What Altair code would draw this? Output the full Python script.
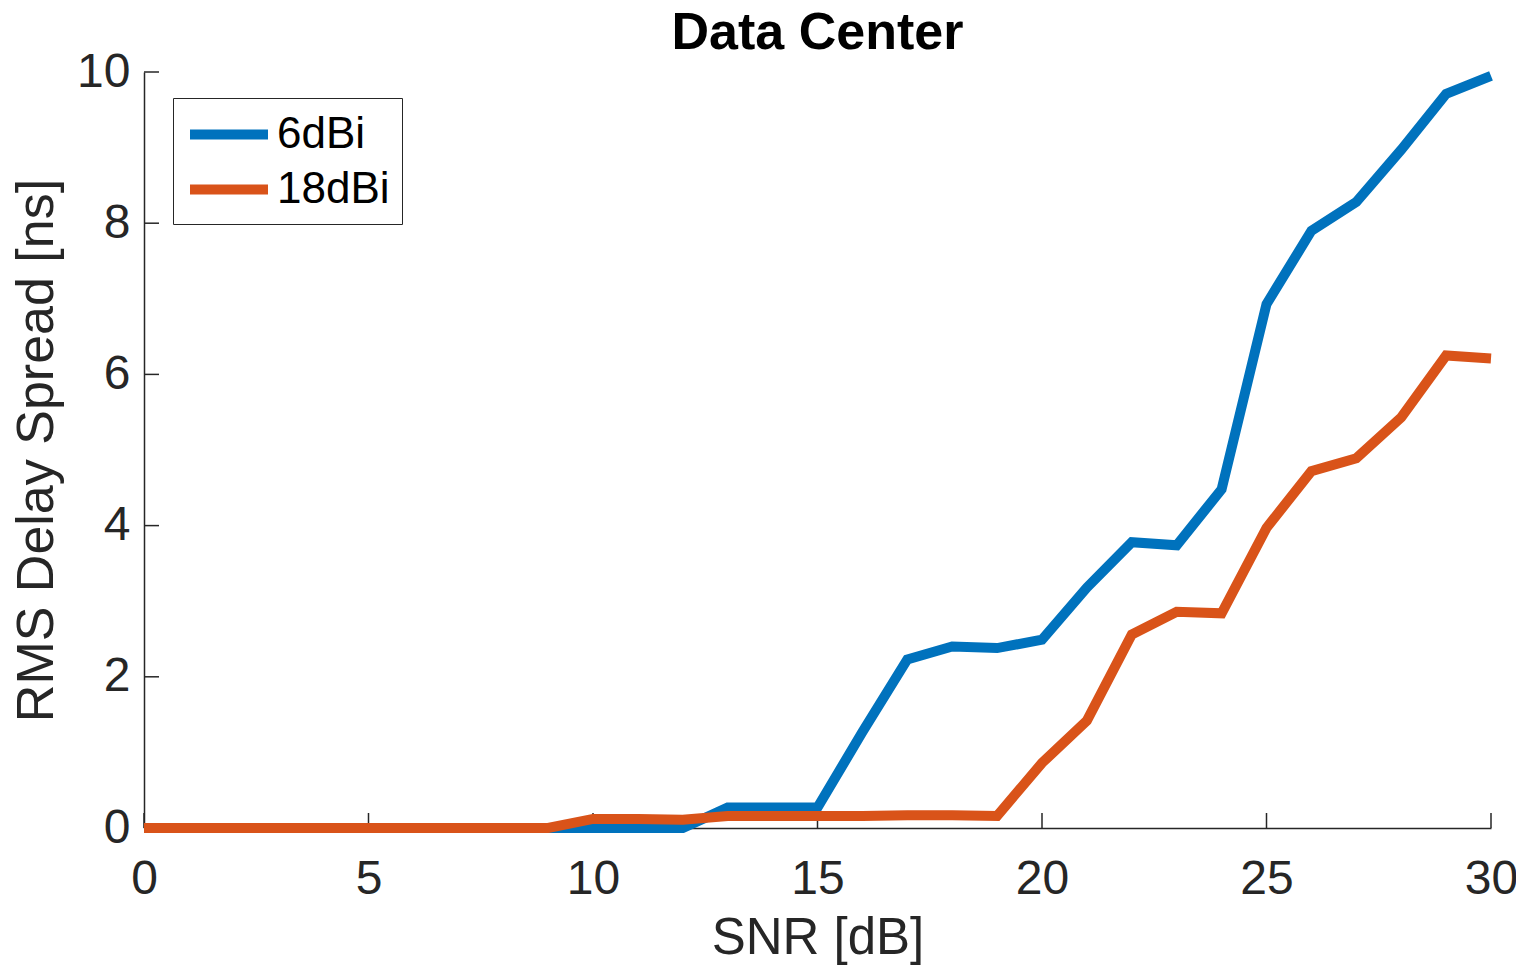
import altair as alt
import pandas as pd

snr = list(range(0, 31))
series_names = ["6dBi", "18dBi"]
blue_vals = [0, 0, 0, 0, 0, 0, 0, 0, 0, 0,
             0.0, 0.0, 0.0, 0.27, 0.27, 0.27, 1.27, 2.23, 2.40, 2.38,
             2.49, 3.18, 3.78, 3.74, 4.48, 6.93, 7.90, 8.28, 8.97, 9.71, 9.95]
orange_vals = [0, 0, 0, 0, 0, 0, 0, 0, 0, 0.0,
               0.12, 0.12, 0.11, 0.16, 0.16, 0.16, 0.16, 0.17, 0.17, 0.16,
               0.86, 1.42, 2.56, 2.86, 2.84, 3.97, 4.72, 4.89, 5.43, 6.25, 6.21]
x_ticks = [0, 5, 10, 15, 20, 25, 30]
y_ticks = [0, 2, 4, 6, 8, 10]

df = pd.DataFrame({
    "snr": snr * 2,
    "val": blue_vals + orange_vals,
    "series": [series_names[0]] * len(snr) + [series_names[1]] * len(snr),
    "order": [0] * len(snr) + [1] * len(snr),
})

W, H = 1347, 756
FONT = "Liberation Sans"
TXT = "#262626"

xscale = alt.Scale(domain=[0, 30], nice=False, zero=False)
yscale = alt.Scale(domain=[0, 10], nice=False)

lines = alt.Chart(df).mark_line(strokeWidth=10, strokeCap="butt", clip=False).encode(
    x=alt.X("snr:Q", scale=xscale,
            axis=alt.Axis(title="SNR [dB]", values=x_ticks, format="d", tickSize=0,
                          labelFontSize=48, labelFont=FONT, labelColor=TXT, labelPadding=27,
                          titleFont=FONT, titleFontSize=51, titleFontWeight="normal",
                          titleColor=TXT, titlePadding=10, domainColor=TXT,
                          domainWidth=1.5, grid=False, labelFlush=False)),
    y=alt.Y("val:Q", scale=yscale,
            axis=alt.Axis(title="RMS Delay Spread [ns]", values=y_ticks, format="d",
                          tickSize=0, labelFontSize=48, labelFont=FONT, labelColor=TXT,
                          labelPadding=14, titleFont=FONT, titleFontSize=52,
                          titleFontWeight="normal", titleColor=TXT, titlePadding=13,
                          domainColor=TXT, domainWidth=1.5, grid=False, labelFlush=False)),
    color=alt.Color("series:N",
                    scale=alt.Scale(domain=series_names, range=["#0072BD", "#D95319"]),
                    legend=alt.Legend(title=None, orient="none", legendX=29, legendY=26,
                                      symbolType="M-1,0H3", symbolStrokeWidth=10,
                                      symbolSize=1521, symbolFillColor="transparent",
                                      labelFontSize=44, labelFont=FONT,
                                      labelColor="black", labelOffset=43,
                                      strokeColor=TXT, fillColor="white", padding=12,
                                      rowPadding=8, cornerRadius=0, labelLimit=400)),
    order=alt.Order("order:Q"),
    detail="series:N",
)

xt = pd.DataFrame({"t": x_ticks})
yt = pd.DataFrame({"t": y_ticks})
xtick_rules = alt.Chart(xt).mark_rule(color=TXT, strokeWidth=1.5).encode(
    x=alt.X("t:Q", scale=xscale), y=alt.value(H), y2=alt.value(H - 15))
ytick_rules = alt.Chart(yt).mark_rule(color=TXT, strokeWidth=1.5).encode(
    y=alt.Y("t:Q", scale=yscale), x=alt.value(0), x2=alt.value(15))

chart = alt.layer(xtick_rules, ytick_rules, lines).properties(
    width=W, height=H,
    title=alt.TitleParams("Data Center", font=FONT, fontSize=52, fontWeight="bold",
                          color="black", anchor="middle", frame="group", offset=-12),
    autosize=alt.AutoSizeParams(type="none"),
    padding={"left": 136, "top": 64, "right": 25, "bottom": 137},
).configure_view(stroke=None)

chart.save("out.html", embed_options={"renderer": "svg", "actions": False})
